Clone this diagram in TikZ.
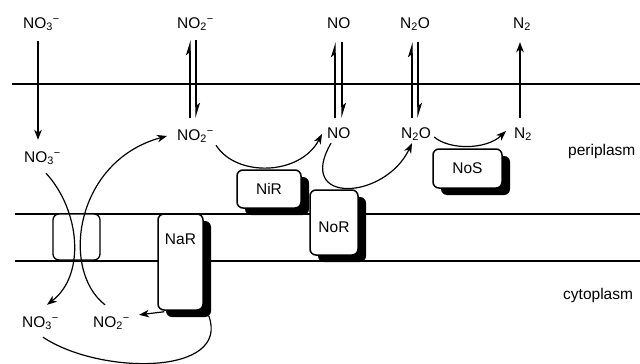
\documentclass[tikz,border=0pt]{standalone}
\usepackage{fontspec}
\setmainfont{Liberation Sans}
\usetikzlibrary{arrows.meta,shadows}
\newcommand{\chsub}[1]{\textsubscript{#1}}
\newcommand{\anion}{\textsuperscript{−}}
\tikzset{
  chem/.style={anchor=base west, inner sep=0pt, text height=12pt, text depth=4pt},
  memline/.style={line width=1.3pt},
  arr/.style={line width=1.2pt, -{Stealth[length=10pt,width=7.5pt,inset=3pt]}},
  harp/.style={line width=1.2pt, -{Stealth[length=13pt,width=8pt,inset=3pt,left]}},
  enzyme/.style={draw, fill=white, rounded corners=6pt, line width=1.5pt,
     drop shadow={shadow xshift=8pt, shadow yshift=-7pt, fill=black, opacity=1}},
  porter/.style={draw, fill=white, rounded corners=6pt, line width=1.3pt}
}
\begin{document}
\begin{tikzpicture}[x=1pt, y=-1pt, font=\fontsize{15.5}{18}\selectfont]
\useasboundingbox (0,0) rectangle (640,364);
% membranes
\draw[memline] (12,84) -- (640,84);
\draw[memline] (15,214) -- (640,214);
\draw[memline] (15,261) -- (640,261);
% boxes
\node[porter, minimum width=47pt, minimum height=46pt] (trans) at (76.5,237) {};
\node[enzyme, minimum width=45pt, minimum height=96pt,
      label={[anchor=north, yshift=-17pt]north:NaR}] (nar) at (180.5,262) {};
\node[enzyme, minimum width=64pt, minimum height=38pt] (nir) at (269,189) {NiR};
\node[enzyme, minimum width=48pt, minimum height=65pt,
      label={[yshift=-5pt]center:NoR}] (nor) at (334,222.5) {};
\node[enzyme, minimum width=69pt, minimum height=39pt] (nos) at (467.5,168.5) {NoS};
% chemicals
\node[chem] (no3t) at (23,28) {NO\chsub{3}\anion};
\node[chem] (no2t) at (177,28) {NO\chsub{2}\anion};
\node[chem] (not) at (327,28) {NO};
\node[chem] (n2ot) at (400,28) {N\chsub{2}O};
\node[chem] (n2t) at (513,28) {N\chsub{2}};
\node[chem] (no3p) at (24,162) {NO\chsub{3}\anion};
\node[chem] (no2p) at (177,140) {NO\chsub{2}\anion};
\node[chem] (nop) at (327,138) {NO};
\node[chem] (n2op) at (401,138) {N\chsub{2}O};
\node[chem] (n2p) at (514,138) {N\chsub{2}};
\node[chem] (no3c) at (22,327) {NO\chsub{3}\anion};
\node[chem] (no2c) at (93,327) {NO\chsub{2}\anion};
\node[anchor=base west, inner sep=0pt] (peri) at (568,155) {periplasm};
\node[anchor=base west, inner sep=0pt] (cyto) at (563,299) {cytoplasm};
% vertical transport arrows
\draw[arr] ([xshift=15pt,yshift=-9pt]no3t.south west) -- ([xshift=14pt,yshift=10pt]no3p.north west);
\draw[harp] ([xshift=13pt,yshift=10pt]no2p.north west) -- ([xshift=13pt,yshift=-8pt]no2t.south west);
\draw[harp] ([xshift=19pt,yshift=-8pt]no2t.south west) -- ([xshift=19pt,yshift=10pt]no2p.north west);
\draw[harp] ([xshift=8pt,yshift=8pt]nop.north west) -- ([xshift=8pt,yshift=-10pt]not.south west);
\draw[harp] ([xshift=15pt,yshift=-10pt]not.south west) -- ([xshift=15pt,yshift=8pt]nop.north west);
\draw[harp] ([xshift=11pt,yshift=8pt]n2op.north west) -- ([xshift=12pt,yshift=-10pt]n2ot.south west);
\draw[harp] ([xshift=18pt,yshift=-10pt]n2ot.south west) -- ([xshift=17pt,yshift=8pt]n2op.north west);
\draw[arr] ([xshift=6pt,yshift=8pt]n2p.north west) -- ([xshift=7pt,yshift=-10pt]n2t.south west);
% transporter curves
\draw[arr] ([xshift=22pt,yshift=-7pt]no3p.south west) .. controls +(34,37) and +(39,-30) .. ([xshift=25pt,yshift=10pt]no3c.north west);
\draw[arr] ([xshift=12pt,yshift=10pt]no2c.north west) .. controls +(-45,-35) and +(-92,25) .. ([xshift=-10pt]no2p.west);
% enzyme reactions
\draw[arr] ([xshift=2pt,yshift=-1pt]no2p.south east) .. controls +(20,32) and +(-22,42) .. ([xshift=-5pt]nop.west);
\draw[arr] ([xshift=4pt,yshift=-1pt]nop.south west) .. controls +(-36,62) and +(-27,57) .. ([xshift=11pt,yshift=-1pt]n2op.south west);
\draw[arr] ([xshift=3pt,yshift=-3pt]n2op.east) .. controls +(15,13) and +(-20,19) .. ([xshift=-8pt,yshift=3pt]n2p.west);
\draw[arr] ([xshift=7pt,yshift=-1pt]nar.south west) -- ([xshift=9pt]no2c.north east);
\draw[line width=1.2pt] ([xshift=21pt,yshift=-6pt]no3c.south west) .. controls +(57,38) and +(22,60) .. ([xshift=5pt,yshift=-5pt]nar.south east);
\end{tikzpicture}
\end{document}
